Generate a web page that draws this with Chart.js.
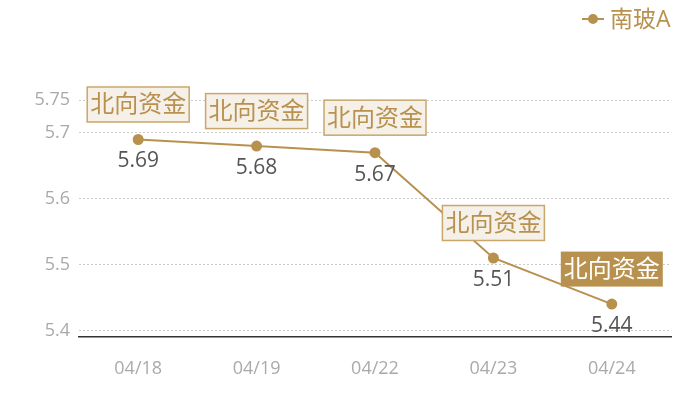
<!DOCTYPE html>
<html>
<head>
<meta charset="utf-8">
<script src="https://cdn.jsdelivr.net/npm/chart.js@4"></script>
<style>
  html, body { margin: 0; padding: 0; background: #fff; }
  .chart-container { width: 700px; height: 400px; position: relative; }
</style>
</head>
<body>
<div class="chart-container">
  <canvas id="chart" aria-label="南玻A 北向资金" role="img"></canvas>
</div>
<script>
const dates = ['04/18', '04/19', '04/22', '04/23', '04/24'];
const prices = [5.69, 5.68, 5.67, 5.51, 5.44];
const yTicks = [5.4, 5.5, 5.6, 5.7, 5.75];
const tagText = '北向资金';
const seriesName = '南玻A';

const GOLD = '#b8914f';
const FONT = '"Open Sans", "Noto Sans CJK SC", sans-serif';

// value labels, tag boxes and legend drawn on top of the chart
const overlayPlugin = {
  id: 'overlay',
  afterDatasetsDraw(chart) {
    const { ctx } = chart;
    const meta = chart.getDatasetMeta(0);
    ctx.save();
    meta.data.forEach((pt, i) => {
      // value under the point
      ctx.font = '21px ' + FONT;
      ctx.fillStyle = '#555';
      ctx.textAlign = 'center';
      ctx.textBaseline = 'middle';
      ctx.fillText(String(prices[i]), pt.x, pt.y + 22);

      // tag box above the point
      const last = i === prices.length - 1;
      ctx.font = '24px ' + FONT;
      const w = ctx.measureText(tagText).width + 6;
      const h = 35;
      const bx = pt.x - w / 2;
      const by = pt.y - 35 - h / 2;
      ctx.fillStyle = last ? GOLD : '#f5f0e8';
      ctx.fillRect(bx, by, w, h);
      if (!last) {
        ctx.strokeStyle = '#c9a66b';
        ctx.lineWidth = 1.5;
        ctx.strokeRect(bx, by, w, h);
      }
      ctx.fillStyle = last ? '#fff' : GOLD;
      ctx.fillText(tagText, pt.x, pt.y - 35 + 1);
    });

    // legend, top right
    const lx = 582, ly = 19;
    ctx.strokeStyle = GOLD;
    ctx.lineWidth = 2;
    ctx.beginPath();
    ctx.moveTo(lx, ly);
    ctx.lineTo(lx + 22, ly);
    ctx.stroke();
    ctx.fillStyle = GOLD;
    ctx.beginPath();
    ctx.arc(lx + 11, ly, 5, 0, Math.PI * 2);
    ctx.fill();
    ctx.font = '23px ' + FONT;
    ctx.textAlign = 'left';
    ctx.fillText(seriesName, lx + 28, ly + 1);
    ctx.restore();
  }
};

new Chart(document.getElementById('chart'), {
  type: 'line',
  data: {
    labels: dates,
    datasets: [{
      label: seriesName,
      data: prices,
      borderColor: GOLD,
      backgroundColor: GOLD,
      borderWidth: 2,
      pointRadius: 4.5,
      pointHoverRadius: 4.5,
      tension: 0,
    }],
  },
  options: {
    responsive: true,
    maintainAspectRatio: false,
    animation: false,
    layout: { padding: { top: 100, right: 29, left: 0, bottom: 0 } },
    plugins: {
      legend: { display: false },
      tooltip: { enabled: false },
    },
    scales: {
      x: {
        offset: true,
        grid: { display: false, drawTicks: false },
        border: { display: true, color: '#333', width: 1.5 },
        ticks: {
          color: '#aaa',
          font: { size: 18, family: FONT },
          padding: 21,
        },
        afterFit(s) { s.height = 63; },
      },
      y: {
        min: 5.39,
        max: 5.75,
        afterBuildTicks(s) { s.ticks = yTicks.map(v => ({ value: v })); },
        grid: {
          color: '#ccc',
          drawTicks: false,
        },
        border: { display: false, dash: [2, 2] },
        ticks: {
          color: '#aaa',
          font: { size: 18, family: FONT },
          padding: 9,
          callback: v => String(v),
        },
        afterFit(s) { s.width = 79; },
      },
    },
  },
  plugins: [overlayPlugin],
});
</script>
</body>
</html>
